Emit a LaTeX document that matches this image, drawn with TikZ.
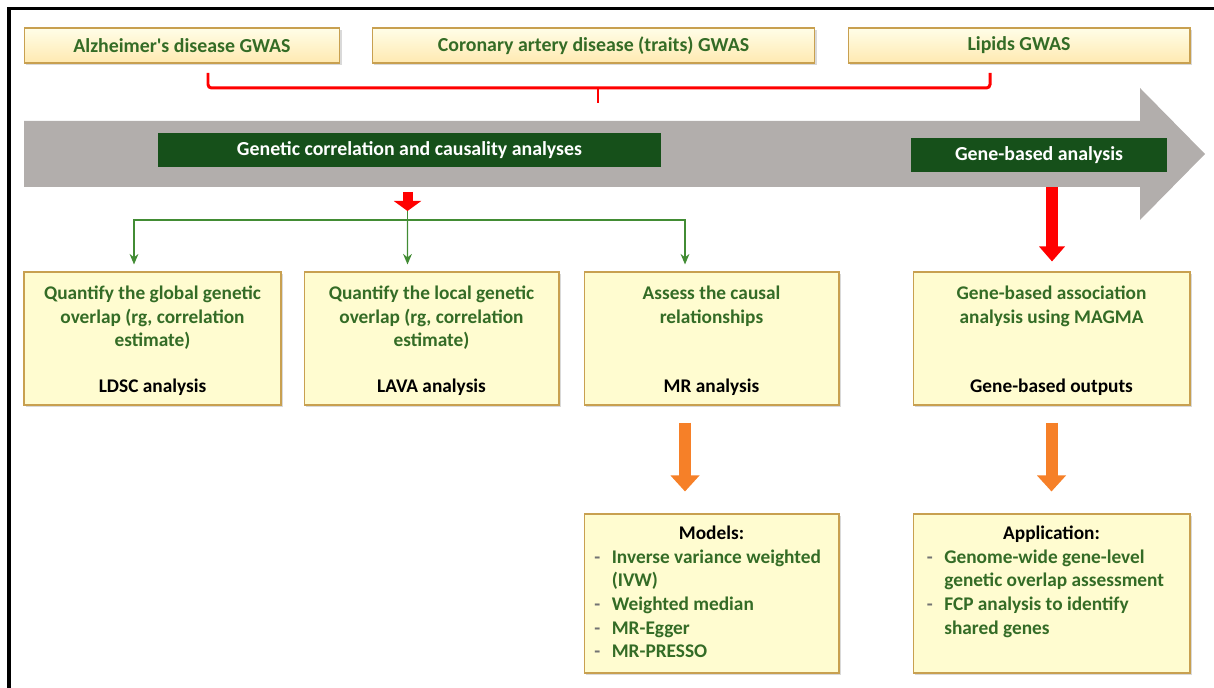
\documentclass[tikz,border=0pt]{standalone}
\usepackage{fontspec}
\setmainfont{Carlito}
\usetikzlibrary{arrows.meta,shadows}

\definecolor{paleyellow}{RGB}{255,252,208}
\definecolor{goldedge}{RGB}{200,160,80}
\definecolor{leafgreen}{RGB}{52,108,38}
\definecolor{bargreen}{RGB}{22,80,26}
\definecolor{linkgreen}{RGB}{66,140,52}
\definecolor{flowgray}{RGB}{178,174,172}
\definecolor{blockorange}{RGB}{246,128,40}

\newcommand\taskbody[3]{\parbox[c][#1][t]{#2}{\vspace*{3pt}\centering #3}}
\newcommand\dashitem[1]{\par\hangindent=1.05em\hangafter=1\noindent\makebox[1.05em][l]{\hspace{0.15em}\textcolor{black!55}{-}}#1}

\begin{document}
\begin{tikzpicture}[
        x=0.02cm, y=-0.02cm,
        font=\bfseries\fontsize{11}{13.4}\selectfont,
        semithick,
        gwas/.style ={draw=goldedge, top color=white!50!paleyellow, bottom color=paleyellow!85!orange, text=leafgreen, minimum height=0.7cm, inner sep=0pt, font=\bfseries\fontsize{11.3}{13.4}\selectfont, drop shadow={shadow xshift=1.2pt, shadow yshift=-1.2pt, opacity=.3}},
        stage/.style ={fill=bargreen, text=white, minimum height=0.68cm, inner sep=0pt, font=\bfseries\fontsize{11.3}{13.4}\selectfont},
        taskbox/.style ={draw=goldedge, fill=paleyellow, text=leafgreen, inner sep=0pt, minimum height=2.66cm, drop shadow={shadow xshift=1.2pt, shadow yshift=-1.2pt, opacity=.3}},
        redline/.style ={red, line width=1.7pt, rounded corners=2pt},
        linkarrow/.style ={draw=linkgreen, thick, shorten >=0.14cm, -{Stealth[length=6pt,width=5pt]}},
        redblock/.style ={red, line width=0.2cm, -{Triangle[length=0.2cm,width=0.54cm]}},
        bigred/.style ={red, line width=0.24cm, shorten >=0.2cm, -{Triangle[length=0.3cm,width=0.5cm]}},
        orangeblock/.style ={blockorange, line width=0.24cm, shorten <=0.34cm, shorten >=0.44cm, -{Triangle[length=0.32cm,width=0.56cm]}},
    ]
    \useasboundingbox (0,0) rectangle (1214,688);
    \draw[line width=1.8pt] (9,688) -- (9,8.5) -- (1214,8.5);

    % inputs
    \node[gwas, minimum width=6.32cm] (ad) at (182,45.5) {Alzheimer\textquotesingle s disease GWAS};
    \node[gwas, minimum width=8.86cm] (cad) at (593.5,45.5) {Coronary artery disease (traits) GWAS};
    \node[gwas, minimum width=6.84cm] (lip) at (1019,45.5) {Lipids GWAS};

    \coordinate (adfoot) at (208,73);
    \coordinate (lipfoot) at (990,73);
    \coordinate (merge) at (598,103);
    \draw[redline] (adfoot) -- ++(0,15) coordinate (bend) -| (lipfoot);
    \draw[redline] (merge |- bend) -- (merge);

    % workflow arrow
    \fill[flowgray] (24,121) -- (1140,121) -- (1140,88) -- (1205,154) -- (1140,220) -- (1140,187) -- (24,187) -- cycle;
    \node[stage, minimum width=10.06cm] (gca) at (409.5,150) {Genetic correlation and causality analyses};
    \node[stage, minimum width=5.12cm] (gba) at (1039,155) {Gene-based analysis};

    % analyses
    \node[taskbox, minimum width=5.14cm] (ldsc) at (152.5,338.5)
        {\taskbody{2.3cm}{4.9cm}{Quantify the global genetic\\overlap (rg, correlation\\estimate)\par\vfill\leavevmode\textcolor{black}{LDSC analysis}}};
    \node[taskbox, minimum width=5.1cm] (lava) at (431.5,338.5)
        {\taskbody{2.3cm}{4.9cm}{Quantify the local genetic\\overlap (rg, correlation\\estimate)\par\vfill\leavevmode\textcolor{black}{LAVA analysis}}};
    \node[taskbox, minimum width=5.1cm] (mr) at (711.5,338.5)
        {\taskbody{2.3cm}{4.9cm}{Assess the causal\\relationships\par\vfill\leavevmode\textcolor{black}{MR analysis}}};
    \node[taskbox, minimum width=5.54cm] (magma) at (1051.5,338.5)
        {\taskbody{2.3cm}{5.3cm}{Gene-based association\\analysis using MAGMA\par\vfill\leavevmode\textcolor{black}{Gene-based outputs}}};

    \node[taskbox, minimum width=5.1cm, minimum height=3.18cm] (models) at (711.5,593.5)
        {\parbox[c][2.9cm][t]{4.8cm}{\vspace*{3pt}\centering\textcolor{black}{Models:}\par\raggedright
        \dashitem{Inverse variance weighted\newline(IVW)}\dashitem{Weighted median}\dashitem{MR-Egger}\dashitem{MR-PRESSO}}};
    \node[taskbox, minimum width=5.54cm, minimum height=3.18cm] (appl) at (1051.5,593.5)
        {\parbox[c][2.9cm][t]{5.1cm}{\vspace*{3pt}\centering\textcolor{black}{Application:}\par\raggedright
        \dashitem{Genome-wide gene-level\newline genetic overlap assessment}\dashitem{FCP analysis to identify\newline shared genes}}};

    % links
    \coordinate (redtail) at (407.5,192);
    \coordinate (redtip) at (407.5,211);
    \coordinate (fork) at (407.5,220);
    \draw[redblock] (redtail) -- (redtip);
    \draw[linkgreen, thick] (redtip) -- (fork);
    \draw[linkarrow] (fork) -| ([xshift=-0.37cm]ldsc.north);
    \draw[linkarrow] (fork) -- ([xshift=-0.48cm]lava.north);
    \draw[linkarrow] (fork) -| ([xshift=-0.53cm]mr.north);

    \coordinate (genetail) at (1052,187);
    \draw[bigred] (genetail) -- (genetail |- magma.north);

    \draw[orangeblock] ([xshift=-0.53cm]mr.south) -- ([xshift=-0.53cm]mr.south |- models.north);
    \draw[orangeblock] (magma.south) -- (magma.south |- appl.north);

\end{tikzpicture}
\end{document}
